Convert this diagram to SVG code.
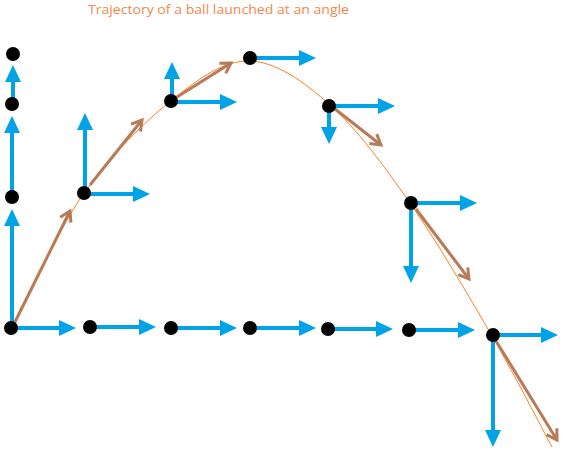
<svg xmlns="http://www.w3.org/2000/svg" width="564" height="452" viewBox="0 0 564 452">
<defs>
<marker id="blueHead" markerUnits="userSpaceOnUse" markerWidth="18" markerHeight="17" refX="6" refY="8" orient="auto" viewBox="0 0 18 17">
<path d="M0,0 L17,8 L0,16 Z" fill="#00A2E8"/>
</marker>
<marker id="brownHead" markerUnits="userSpaceOnUse" markerWidth="16" markerHeight="16" refX="11" refY="7" orient="auto" viewBox="0 0 16 14">
<path d="M1,1 L11,7 L1,13" fill="none" stroke="#B97A57" stroke-width="3"/>
</marker>
</defs>
<style>
.dot{fill:#000}
.v{stroke:#00A2E8;stroke-width:4;fill:none;marker-end:url(#blueHead)}
.b{stroke:#B97A57;stroke-width:3;fill:none;marker-end:url(#brownHead)}
.traj{stroke:#FF7F27;stroke-width:1;fill:none}
.title{font-family:"Open Sans","Liberation Sans",sans-serif;font-size:13px;fill:#F4874B}
</style>
<rect width="564" height="452" fill="#fff"/>
<text class="title" x="88" y="14" textLength="261" lengthAdjust="spacingAndGlyphs">Trajectory of a ball launched at an angle</text>
<path class="traj" d="M11,328 C23.2,305.5 57.2,231 84,193 C110.8,155 144.3,122 172,100 C199.7,78 223.7,60.2 250,61 C276.3,61.8 303.3,81.3 330,105 C356.7,128.7 383,164.5 410,203 C437,241.5 468.3,295.3 492,336 C515.7,376.7 542,428.5 552,447"/>
<g id="connectors">
<line class="v" x1="12" y1="328" x2="12" y2="220"/>
<line class="v" x1="12" y1="197" x2="12" y2="127"/>
<line class="v" x1="13" y1="104" x2="13" y2="76"/>
<line class="v" x1="85" y1="193" x2="85" y2="124"/>
<line class="v" x1="172" y1="100" x2="172" y2="73"/>
<line class="v" x1="329" y1="106" x2="329" y2="133"/>
<line class="v" x1="411" y1="203" x2="411" y2="272"/>
<line class="v" x1="493" y1="336" x2="493" y2="436"/>
<line class="v" x1="11" y1="328" x2="65" y2="328"/>
<line class="v" x1="90" y1="327" x2="145" y2="327"/>
<line class="v" x1="171" y1="328" x2="226" y2="328"/>
<line class="v" x1="250" y1="328" x2="305" y2="328"/>
<line class="v" x1="328" y1="329" x2="382" y2="329"/>
<line class="v" x1="409" y1="330" x2="464" y2="330"/>
<line class="v" x1="84" y1="194" x2="139" y2="194"/>
<line class="v" x1="172" y1="102" x2="226" y2="102"/>
<line class="v" x1="250" y1="58" x2="305" y2="58"/>
<line class="v" x1="330" y1="106" x2="384" y2="106"/>
<line class="v" x1="411" y1="203" x2="466" y2="203"/>
<line class="v" x1="493" y1="335" x2="547" y2="335"/>
<line class="b" x1="14" y1="324" x2="70" y2="211"/>
<line class="b" x1="90" y1="185" x2="142" y2="120"/>
<line class="b" x1="177" y1="97" x2="231" y2="63"/>
<line class="b" x1="335" y1="109" x2="381" y2="145"/>
<line class="b" x1="416" y1="209" x2="469" y2="279"/>
<line class="b" x1="496" y1="341" x2="557" y2="440"/>
</g>
<g id="dot-top"><circle class="dot" cx="13" cy="54" r="7"/></g>
<g id="dot-v2"><circle class="dot" cx="12" cy="104" r="7"/></g>
<g id="dot-v1"><circle class="dot" cx="12" cy="197" r="7"/></g>
<g id="dot-start"><circle class="dot" cx="11" cy="328" r="7"/></g>
<g id="dot-g1"><circle class="dot" cx="90" cy="327" r="7"/></g>
<g id="dot-g2"><circle class="dot" cx="171" cy="328" r="7"/></g>
<g id="dot-g3"><circle class="dot" cx="250" cy="328" r="7"/></g>
<g id="dot-g4"><circle class="dot" cx="328" cy="329" r="7"/></g>
<g id="dot-g5"><circle class="dot" cx="409" cy="330" r="7"/></g>
<g id="dot-t1"><circle class="dot" cx="84" cy="193" r="7"/></g>
<g id="dot-t2"><circle class="dot" cx="171" cy="101" r="7"/></g>
<g id="dot-t3"><circle class="dot" cx="250" cy="58" r="7"/></g>
<g id="dot-t4"><circle class="dot" cx="329" cy="106" r="7"/></g>
<g id="dot-t5"><circle class="dot" cx="411" cy="203" r="7"/></g>
<g id="dot-t6"><circle class="dot" cx="493" cy="335" r="7"/></g>
</svg>
